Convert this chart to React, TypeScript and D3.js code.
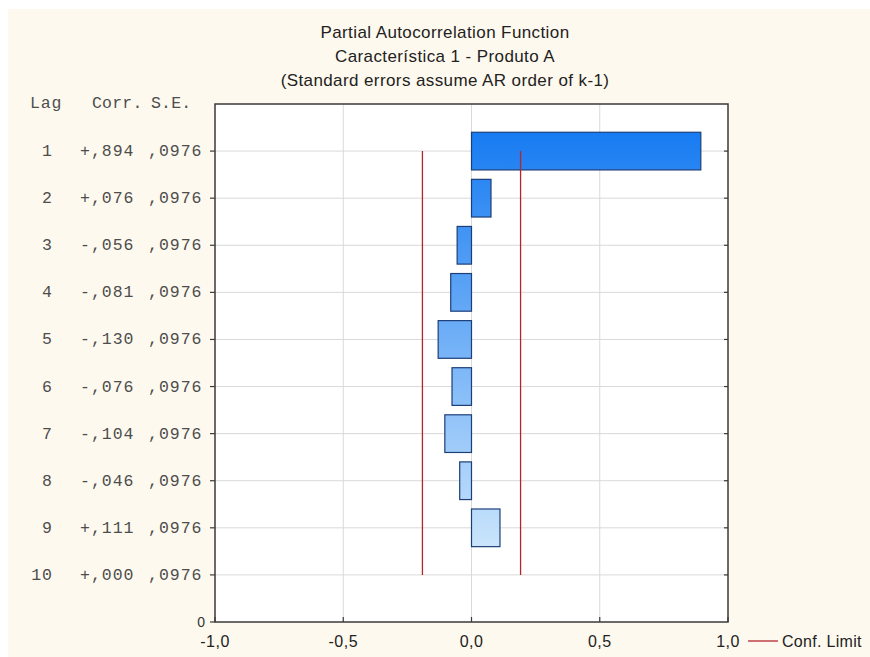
import React from "react";
import * as d3 from "d3";

// Partial autocorrelations by lag
const lags = [1, 2, 3, 4, 5, 6, 7, 8, 9, 10];
const corrValues = [0.894, 0.076, -0.056, -0.081, -0.13, -0.076, -0.104, -0.046, 0.111, 0.0];
const corrLabels = ["+,894", "+,076", "-,056", "-,081", "-,130", "-,076", "-,104", "-,046", "+,111", "+,000"];
const seValues = [0.0976, 0.0976, 0.0976, 0.0976, 0.0976, 0.0976, 0.0976, 0.0976, 0.0976, 0.0976];
const seLabels = [",0976", ",0976", ",0976", ",0976", ",0976", ",0976", ",0976", ",0976", ",0976", ",0976"];
const xTicks = [-1, -0.5, 0, 0.5, 1];
const xTickLabels = ["-1,0", "-0,5", "0,0", "0,5", "1,0"];
const titleLines = [
  "Partial Autocorrelation Function",
  "Característica 1 - Produto A",
  "(Standard errors assume AR order of k-1)",
];

const W = 870;
const H = 657;
const plot = { left: 215, right: 728, top: 104, bottom: 622 };
const sans = "'Liberation Sans', Arial, sans-serif";
const mono = "'Liberation Mono', 'Courier New', monospace";

export default function App() {
  const x = d3.scaleLinear().domain([-1, 1]).range([plot.left, plot.right]);
  const y = d3.scaleLinear().domain([0, 11]).range([plot.top, plot.bottom]);
  const band = (y(1) - y(0)) * 0.8;
  const conf = 1.96 * seValues[0];

  return (
    <div style={{ position: "absolute", left: 0, top: 0 }}>
      <svg width={W} height={H} style={{ display: "block" }}>
        <defs>
          <linearGradient
            id="barFill"
            gradientUnits="userSpaceOnUse"
            x1={0}
            y1={plot.top}
            x2={0}
            y2={600}
          >
            <stop offset="0" stopColor="#0b74f1" />
            <stop offset="1" stopColor="#e1f2fd" />
          </linearGradient>
        </defs>
        <rect x={0} y={0} width={W} height={H} fill="#ffffff" />
        <rect x={8} y={9} width={W - 8} height={H - 9} fill="#fef9ee" />

        {/* Title */}
        {titleLines.map((t, i) => (
          <text
            key={i}
            x={445}
            y={38 + i * 24}
            textAnchor="middle"
            fontFamily={sans}
            fontSize={17}
            letterSpacing={0.4}
            fill="#222"
          >
            {t}
          </text>
        ))}

        {/* Plot area */}
        <rect
          x={plot.left}
          y={plot.top}
          width={plot.right - plot.left}
          height={plot.bottom - plot.top}
          fill="#ffffff"
        />
        {/* Grid */}
        {lags.map((l) => (
          <line
            key={"h" + l}
            x1={plot.left}
            x2={plot.right}
            y1={y(l)}
            y2={y(l)}
            stroke="#d9d9d9"
            strokeWidth={1}
          />
        ))}
        {xTicks.slice(1, -1).map((t) => (
          <line
            key={"v" + t}
            x1={x(t)}
            x2={x(t)}
            y1={plot.top}
            y2={plot.bottom}
            stroke="#d9d9d9"
            strokeWidth={1}
          />
        ))}

        {/* Bars */}
        {lags.map((l, i) => {
          const v = corrValues[i];
          const x0 = x(Math.min(0, v));
          const x1 = x(Math.max(0, v));
          return (
            <rect
              key={"b" + l}
              x={x0}
              y={y(l) - band / 2}
              width={Math.max(0, x1 - x0)}
              height={band}
              fill="url(#barFill)"
              stroke="#1d3f78"
              strokeWidth={1.2}
            />
          );
        })}

        {/* Confidence limits */}
        {[-conf, conf].map((c, i) => (
          <line
            key={"c" + i}
            x1={x(c)}
            x2={x(c)}
            y1={y(lags[0])}
            y2={y(lags[lags.length - 1])}
            stroke="#b3262d"
            strokeWidth={1.3}
          />
        ))}

        {/* Frame */}
        <rect
          x={plot.left}
          y={plot.top}
          width={plot.right - plot.left}
          height={plot.bottom - plot.top}
          fill="none"
          stroke="#3a3a3a"
          strokeWidth={1.5}
        />

        {/* Lag ticks */}
        {lags.map((l) => (
          <g key={"lt" + l}>
            <line x1={plot.left - 5} x2={plot.left} y1={y(l)} y2={y(l)} stroke="#3a3a3a" strokeWidth={1.2} />
            <line x1={plot.right - 4} x2={plot.right} y1={y(l)} y2={y(l)} stroke="#3a3a3a" strokeWidth={1.2} />
          </g>
        ))}
        <line x1={plot.left - 5} x2={plot.left} y1={plot.bottom} y2={plot.bottom} stroke="#3a3a3a" strokeWidth={1.2} />
        <text x={205} y={627} textAnchor="end" fontFamily={sans} fontSize={14} fill="#333">
          0
        </text>

        {/* Bottom ticks and labels */}
        {xTicks.map((t, i) => (
          <g key={"xt" + t}>
            <line x1={x(t)} x2={x(t)} y1={plot.bottom} y2={plot.bottom - 5} stroke="#3a3a3a" strokeWidth={1.2} />
            <text
              x={x(t)}
              y={647}
              textAnchor="middle"
              fontFamily={sans}
              fontSize={16}
              letterSpacing={0.5}
              fill="#222"
            >
              {xTickLabels[i]}
            </text>
          </g>
        ))}

        {/* Legend */}
        <line x1={748} x2={778} y1={641} y2={641} stroke="#b3262d" strokeWidth={1.3} />
        <text x={782} y={647} fontFamily={sans} fontSize={16} letterSpacing={0.3} fill="#222">
          Conf. Limit
        </text>

        {/* Table */}
        <g fontFamily={mono} fontSize={16.5} fill="#4d4d4d">
          <text x={30} y={108} letterSpacing={0.8}>Lag</text>
          <text x={92} y={108} letterSpacing={0.2}>Corr.</text>
          <text x={151} y={108} letterSpacing={0.2}>S.E.</text>
          {lags.map((l, i) => (
            <g key={"row" + l} letterSpacing={1}>
              <text x={53} y={y(l) + 5} textAnchor="end">
                {l}
              </text>
              <text x={80} y={y(l) + 5}>{corrLabels[i]}</text>
              <text x={148} y={y(l) + 5}>{seLabels[i]}</text>
            </g>
          ))}
        </g>
      </svg>
    </div>
  );
}
